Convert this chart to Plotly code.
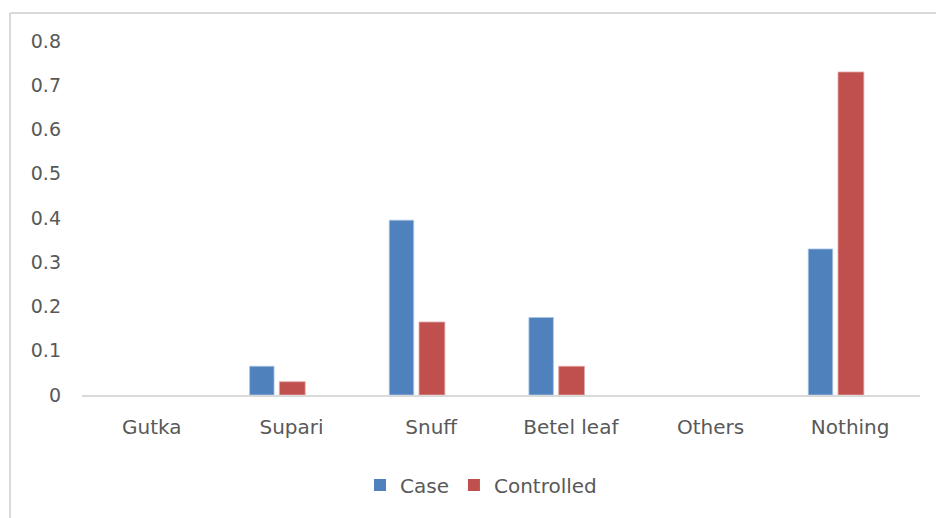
import plotly.graph_objects as go

categories = ["Gutka", "Supari", "Snuff", "Betel leaf", "Others", "Nothing"]
case_values = [0, 0.065, 0.395, 0.175, 0, 0.33]
controlled_values = [0, 0.03, 0.165, 0.065, 0, 0.73]
y_ticks = [0, 0.1, 0.2, 0.3, 0.4, 0.5, 0.6, 0.7, 0.8]
y_tick_labels = ["0", "0.1", "0.2", "0.3", "0.4", "0.5", "0.6", "0.7", "0.8"]

W, H = 936, 518
L, R, T, B = 82, 16, 41, 123
pw, ph = W - L - R, H - T - B

def px(x):
    return (x - L) / pw

def py(y):
    return (H - B - y) / ph

def edge_widths(vals):
    return [0 if v == 0 else 0.8 for v in vals]

fig = go.Figure()
fig.add_trace(go.Bar(name="Case", x=categories, y=case_values,
                     width=0.175, offset=-0.30,
                     marker=dict(color="#4F81BD",
                                 line=dict(color="#a9c3e3", width=edge_widths(case_values)))))
fig.add_trace(go.Bar(name="Controlled", x=categories, y=controlled_values,
                     width=0.185, offset=-0.087,
                     marker=dict(color="#C0504D",
                                 line=dict(color="#e3a9a8", width=edge_widths(controlled_values)))))

font_family = "DejaVu Sans, Liberation Sans, sans-serif"
fig.update_layout(
    width=W, height=H,
    margin=dict(l=L, r=R, t=T, b=B),
    paper_bgcolor="white", plot_bgcolor="white",
    barmode="overlay",
    font=dict(family=font_family, size=20, color="#595959"),
    showlegend=True,
    legend=dict(orientation="h", x=px(481), xanchor="center", y=py(485), yanchor="middle",
                font=dict(size=20, color="#595959"), tracegroupgap=0),
    xaxis=dict(showgrid=False, showline=True, linecolor="#d9d9d9", linewidth=1.5,
               ticks="", tickfont=dict(size=20, color="#595959"), ticklabelstandoff=13,
               fixedrange=True),
    yaxis=dict(range=[0, 0.8], tickvals=y_ticks, ticktext=y_tick_labels,
               showgrid=False, zeroline=False, showline=False, ticks="",
               tickfont=dict(size=19, color="#595959"), ticklabelstandoff=20),
    shapes=[
        dict(type="line", xref="paper", yref="paper", x0=px(10), x1=px(10), y0=py(13), y1=py(518),
             line=dict(color="#d9d9d9", width=2)),
        dict(type="line", xref="paper", yref="paper", x0=px(10), x1=px(936), y0=py(13), y1=py(13),
             line=dict(color="#d9d9d9", width=2)),
    ],
)

fig.write_html("out.html")
